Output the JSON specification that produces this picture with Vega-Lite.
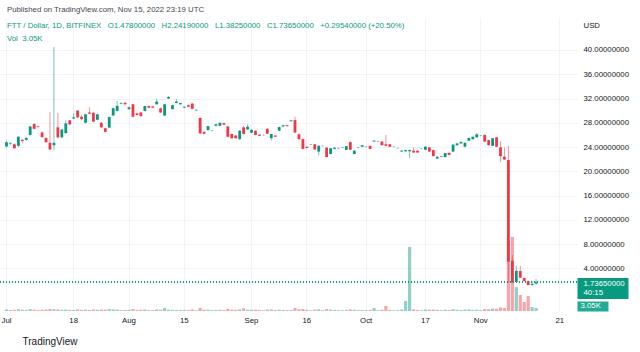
{
  "$schema": "https://vega.github.io/schema/vega-lite/v6.json",
  "autosize": {"type": "none"},
  "width": 577,
  "height": 294,
  "padding": {"left": 0, "top": 17, "right": 63, "bottom": 41},
  "background": "#ffffff",
  "config": {"view": {"stroke": null}, "font": "Liberation Sans"},
  "title": {
    "text": "Published on TradingView.com, Nov 15, 2022 23:19 UTC",
    "subtitle": ["\u00a0\u00a0FTT / Dollar, 1D, BITFINEX\u00a0\u00a0\u00a0O1.47800000\u00a0\u00a0\u00a0H2.24190000\u00a0\u00a0\u00a0L1.38250000\u00a0\u00a0\u00a0C1.73650000\u00a0\u00a0\u00a0+0.29540000 (+20.50%)", "\u00a0\u00a0Vol\u00a0\u00a03.05K"],
    "anchor": "start", "frame": "group", "offset": -26, "dx": 7,
    "fontSize": 7.8, "fontWeight": "normal", "color": "#434651",
    "subtitleFontSize": 7.8, "subtitleColor": "#089981", "subtitlePadding": 8, "subtitleLineHeight": 13
  },
  "datasets": {
    "ohlc": [
      {"d":"2022-07-01","o":24.1,"h":25.0,"l":23.9,"c":24.8,"v":1.6},
      {"d":"2022-07-02","o":24.5,"h":24.8,"l":24.3,"c":24.6,"v":1.0},
      {"d":"2022-07-03","o":24.45,"h":24.6,"l":23.7,"c":23.8,"v":1.2},
      {"d":"2022-07-04","o":24.2,"h":25.8,"l":24.0,"c":25.7,"v":1.8},
      {"d":"2022-07-05","o":25.2,"h":25.3,"l":24.6,"c":25.0,"v":1.3},
      {"d":"2022-07-06","o":25.2,"h":25.7,"l":25.0,"c":25.5,"v":1.1},
      {"d":"2022-07-07","o":26.0,"h":27.5,"l":25.9,"c":27.4,"v":1.9},
      {"d":"2022-07-08","o":27.8,"h":27.9,"l":26.9,"c":27.0,"v":1.4},
      {"d":"2022-07-09","o":27.4,"h":27.5,"l":27.2,"c":27.3,"v":0.9},
      {"d":"2022-07-10","o":26.4,"h":26.6,"l":25.5,"c":25.65,"v":1.3},
      {"d":"2022-07-11","o":25.5,"h":25.6,"l":24.7,"c":24.8,"v":1.5},
      {"d":"2022-07-12","o":24.7,"h":29.8,"l":23.5,"c":23.6,"v":2.0},
      {"d":"2022-07-13","o":24.3,"h":40.5,"l":23.5,"c":24.7,"v":1.8},
      {"d":"2022-07-14","o":27.25,"h":29.6,"l":25.4,"c":25.6,"v":1.6},
      {"d":"2022-07-15","o":25.6,"h":27.0,"l":25.5,"c":26.9,"v":1.2},
      {"d":"2022-07-16","o":26.3,"h":28.4,"l":26.2,"c":27.9,"v":1.5},
      {"d":"2022-07-17","o":28.4,"h":28.5,"l":27.6,"c":27.75,"v":1.1},
      {"d":"2022-07-18","o":28.7,"h":29.6,"l":28.6,"c":28.9,"v":1.0},
      {"d":"2022-07-19","o":30.0,"h":30.1,"l":28.8,"c":28.9,"v":1.7},
      {"d":"2022-07-20","o":29.0,"h":29.3,"l":28.4,"c":28.6,"v":1.2},
      {"d":"2022-07-21","o":28.0,"h":29.5,"l":27.9,"c":29.4,"v":1.4},
      {"d":"2022-07-22","o":29.7,"h":30.55,"l":29.4,"c":29.5,"v":1.0},
      {"d":"2022-07-23","o":29.65,"h":29.8,"l":28.1,"c":28.2,"v":1.6},
      {"d":"2022-07-24","o":28.5,"h":29.5,"l":28.4,"c":29.4,"v":1.2},
      {"d":"2022-07-25","o":28.0,"h":28.1,"l":27.1,"c":27.25,"v":1.5},
      {"d":"2022-07-26","o":27.1,"h":27.2,"l":26.4,"c":26.5,"v":1.3},
      {"d":"2022-07-27","o":27.2,"h":29.0,"l":27.1,"c":28.95,"v":1.9},
      {"d":"2022-07-28","o":29.2,"h":30.5,"l":29.1,"c":30.4,"v":1.6},
      {"d":"2022-07-29","o":29.95,"h":31.6,"l":29.9,"c":30.8,"v":1.4},
      {"d":"2022-07-30","o":31.15,"h":31.4,"l":31.0,"c":31.25,"v":0.9},
      {"d":"2022-07-31","o":31.3,"h":31.4,"l":30.9,"c":31.05,"v":1.0},
      {"d":"2022-08-01","o":30.25,"h":30.7,"l":30.2,"c":30.55,"v":1.2},
      {"d":"2022-08-02","o":31.05,"h":31.1,"l":28.9,"c":29.0,"v":2.0},
      {"d":"2022-08-03","o":29.55,"h":29.6,"l":29.2,"c":29.3,"v":1.1},
      {"d":"2022-08-04","o":29.7,"h":29.8,"l":29.0,"c":29.1,"v":1.3},
      {"d":"2022-08-05","o":29.95,"h":30.8,"l":29.9,"c":30.75,"v":1.5},
      {"d":"2022-08-06","o":30.75,"h":30.85,"l":30.4,"c":30.5,"v":0.9},
      {"d":"2022-08-07","o":30.7,"h":30.8,"l":30.45,"c":30.5,"v":1.0},
      {"d":"2022-08-08","o":31.05,"h":32.0,"l":31.0,"c":31.5,"v":1.6},
      {"d":"2022-08-09","o":30.4,"h":30.5,"l":29.6,"c":29.7,"v":1.4},
      {"d":"2022-08-10","o":29.2,"h":31.1,"l":29.1,"c":31.05,"v":3.0},
      {"d":"2022-08-11","o":32.0,"h":32.4,"l":31.9,"c":32.25,"v":1.3},
      {"d":"2022-08-12","o":30.25,"h":31.0,"l":30.2,"c":30.9,"v":1.2},
      {"d":"2022-08-13","o":31.25,"h":31.9,"l":31.2,"c":31.5,"v":1.0},
      {"d":"2022-08-14","o":31.05,"h":31.3,"l":31.0,"c":31.25,"v":0.9},
      {"d":"2022-08-15","o":30.5,"h":30.7,"l":30.4,"c":30.65,"v":1.1},
      {"d":"2022-08-16","o":30.9,"h":31.0,"l":30.6,"c":30.65,"v":1.0},
      {"d":"2022-08-17","o":31.15,"h":31.3,"l":30.2,"c":30.3,"v":1.5},
      {"d":"2022-08-18","o":30.05,"h":30.2,"l":30.0,"c":30.15,"v":0.8},
      {"d":"2022-08-19","o":28.8,"h":28.9,"l":26.2,"c":26.25,"v":3.0},
      {"d":"2022-08-20","o":26.5,"h":26.6,"l":26.1,"c":26.2,"v":1.4},
      {"d":"2022-08-21","o":26.8,"h":27.5,"l":26.7,"c":27.45,"v":1.3},
      {"d":"2022-08-22","o":26.7,"h":26.8,"l":26.6,"c":26.75,"v":0.9},
      {"d":"2022-08-23","o":27.5,"h":27.8,"l":27.4,"c":27.75,"v":1.1},
      {"d":"2022-08-24","o":27.5,"h":28.05,"l":27.45,"c":28.0,"v":1.2},
      {"d":"2022-08-25","o":27.95,"h":28.0,"l":27.6,"c":27.7,"v":1.0},
      {"d":"2022-08-26","o":27.4,"h":27.5,"l":25.6,"c":25.7,"v":2.2},
      {"d":"2022-08-27","o":26.15,"h":26.2,"l":25.4,"c":25.45,"v":1.5},
      {"d":"2022-08-28","o":25.9,"h":26.0,"l":25.4,"c":25.45,"v":1.2},
      {"d":"2022-08-29","o":25.3,"h":26.8,"l":25.2,"c":26.7,"v":1.6},
      {"d":"2022-08-30","o":27.25,"h":27.5,"l":26.1,"c":26.15,"v":2.8},
      {"d":"2022-08-31","o":26.9,"h":27.7,"l":26.85,"c":27.35,"v":1.3},
      {"d":"2022-09-01","o":26.35,"h":26.9,"l":26.3,"c":26.85,"v":1.2},
      {"d":"2022-09-02","o":26.7,"h":26.75,"l":25.95,"c":26.0,"v":1.4},
      {"d":"2022-09-03","o":26.05,"h":26.1,"l":25.8,"c":25.85,"v":1.0},
      {"d":"2022-09-05","o":25.95,"h":26.05,"l":25.9,"c":26.0,"v":0.8},
      {"d":"2022-09-06","o":27.0,"h":27.1,"l":26.1,"c":26.2,"v":1.5},
      {"d":"2022-09-07","o":25.45,"h":26.2,"l":25.1,"c":26.15,"v":1.6},
      {"d":"2022-09-08","o":25.9,"h":25.95,"l":25.65,"c":25.7,"v":1.0},
      {"d":"2022-09-09","o":26.7,"h":27.35,"l":26.65,"c":27.3,"v":1.4},
      {"d":"2022-09-10","o":27.4,"h":27.65,"l":27.35,"c":27.6,"v":1.0},
      {"d":"2022-09-11","o":27.6,"h":27.65,"l":27.4,"c":27.45,"v":0.9},
      {"d":"2022-09-12","o":28.25,"h":28.5,"l":28.2,"c":28.4,"v":1.1},
      {"d":"2022-09-13","o":28.45,"h":29.0,"l":26.3,"c":26.4,"v":3.0},
      {"d":"2022-09-14","o":26.1,"h":26.2,"l":25.2,"c":25.3,"v":1.8},
      {"d":"2022-09-15","o":25.3,"h":25.4,"l":23.6,"c":23.7,"v":2.0},
      {"d":"2022-09-16","o":24.05,"h":24.1,"l":23.8,"c":23.85,"v":1.2},
      {"d":"2022-09-17","o":24.4,"h":24.5,"l":24.35,"c":24.45,"v":0.8},
      {"d":"2022-09-18","o":24.45,"h":24.5,"l":23.5,"c":23.6,"v":1.3},
      {"d":"2022-09-19","o":23.25,"h":24.3,"l":22.6,"c":24.2,"v":1.7},
      {"d":"2022-09-20","o":24.15,"h":24.25,"l":24.1,"c":24.2,"v":0.9},
      {"d":"2022-09-21","o":23.9,"h":24.0,"l":22.3,"c":22.35,"v":1.9},
      {"d":"2022-09-22","o":22.85,"h":23.85,"l":22.8,"c":23.8,"v":1.4},
      {"d":"2022-09-23","o":23.7,"h":23.95,"l":23.65,"c":23.9,"v":1.0},
      {"d":"2022-09-24","o":23.8,"h":23.9,"l":23.75,"c":23.85,"v":0.8},
      {"d":"2022-09-25","o":23.95,"h":24.05,"l":23.9,"c":24.0,"v":0.8},
      {"d":"2022-09-26","o":23.55,"h":24.2,"l":23.5,"c":24.15,"v":1.2},
      {"d":"2022-09-27","o":24.8,"h":25.0,"l":23.5,"c":23.55,"v":1.6},
      {"d":"2022-09-28","o":22.85,"h":23.45,"l":22.8,"c":23.4,"v":1.3},
      {"d":"2022-09-29","o":23.9,"h":24.0,"l":23.85,"c":23.95,"v":0.9},
      {"d":"2022-09-30","o":24.05,"h":24.35,"l":24.0,"c":24.3,"v":1.0},
      {"d":"2022-10-01","o":24.0,"h":24.1,"l":23.95,"c":24.05,"v":0.8},
      {"d":"2022-10-02","o":24.2,"h":24.25,"l":23.65,"c":23.7,"v":1.1},
      {"d":"2022-10-03","o":24.9,"h":25.1,"l":24.85,"c":25.05,"v":3.0},
      {"d":"2022-10-04","o":24.9,"h":25.0,"l":24.85,"c":24.95,"v":0.9},
      {"d":"2022-10-05","o":24.9,"h":24.95,"l":24.25,"c":24.3,"v":1.3},
      {"d":"2022-10-06","o":24.45,"h":26.0,"l":24.15,"c":24.2,"v":5.0},
      {"d":"2022-10-07","o":24.45,"h":24.5,"l":24.0,"c":24.05,"v":1.2},
      {"d":"2022-10-08","o":24.0,"h":24.1,"l":23.95,"c":24.05,"v":0.8},
      {"d":"2022-10-10","o":23.8,"h":23.9,"l":23.75,"c":23.85,"v":0.9},
      {"d":"2022-10-11","o":23.25,"h":23.45,"l":23.2,"c":23.4,"v":1.5},
      {"d":"2022-10-12","o":23.3,"h":23.55,"l":23.25,"c":23.5,"v":10},
      {"d":"2022-10-13","o":23.3,"h":23.55,"l":22.15,"c":23.5,"v":64},
      {"d":"2022-10-14","o":23.4,"h":23.9,"l":23.05,"c":23.1,"v":1.6},
      {"d":"2022-10-15","o":23.4,"h":23.45,"l":23.05,"c":23.1,"v":1.0},
      {"d":"2022-10-16","o":23.7,"h":23.8,"l":23.65,"c":23.75,"v":0.8},
      {"d":"2022-10-17","o":23.55,"h":24.1,"l":23.5,"c":24.05,"v":1.5},
      {"d":"2022-10-18","o":23.95,"h":24.0,"l":23.2,"c":23.25,"v":1.4},
      {"d":"2022-10-19","o":23.5,"h":23.55,"l":22.45,"c":22.5,"v":1.6},
      {"d":"2022-10-20","o":22.1,"h":22.5,"l":22.05,"c":22.4,"v":1.2},
      {"d":"2022-10-21","o":22.5,"h":22.55,"l":22.35,"c":22.4,"v":0.9},
      {"d":"2022-10-22","o":22.35,"h":23.05,"l":22.3,"c":23.0,"v":1.3},
      {"d":"2022-10-24","o":23.05,"h":23.1,"l":22.65,"c":22.7,"v":1.0},
      {"d":"2022-10-25","o":23.25,"h":24.45,"l":23.2,"c":24.4,"v":1.8},
      {"d":"2022-10-26","o":24.3,"h":24.65,"l":24.25,"c":24.6,"v":1.2},
      {"d":"2022-10-27","o":24.6,"h":24.9,"l":24.55,"c":24.85,"v":1.0},
      {"d":"2022-10-28","o":24.05,"h":24.75,"l":24.0,"c":24.7,"v":1.4},
      {"d":"2022-10-29","o":25.05,"h":25.55,"l":25.0,"c":25.5,"v":1.5},
      {"d":"2022-10-30","o":25.3,"h":25.75,"l":25.25,"c":25.7,"v":1.1},
      {"d":"2022-10-31","o":25.6,"h":26.3,"l":25.55,"c":26.1,"v":1.3},
      {"d":"2022-11-01","o":25.85,"h":25.95,"l":25.8,"c":25.9,"v":0.9},
      {"d":"2022-11-02","o":26.0,"h":26.1,"l":24.85,"c":24.9,"v":2.0},
      {"d":"2022-11-03","o":25.15,"h":25.2,"l":24.25,"c":24.3,"v":1.8},
      {"d":"2022-11-04","o":24.2,"h":25.5,"l":24.15,"c":25.45,"v":2.5},
      {"d":"2022-11-05","o":25.6,"h":25.65,"l":24.0,"c":24.05,"v":2.2},
      {"d":"2022-11-06","o":23.95,"h":24.95,"l":21.5,"c":22.5,"v":3.5},
      {"d":"2022-11-07","o":22.4,"h":23.9,"l":21.9,"c":21.95,"v":3.0},
      {"d":"2022-11-08","o":21.85,"h":24.2,"l":1.6,"c":5.1,"v":70},
      {"d":"2022-11-09","o":5.25,"h":6.2,"l":1.6,"c":1.7,"v":74},
      {"d":"2022-11-10","o":1.75,"h":4.45,"l":1.7,"c":3.6,"v":24},
      {"d":"2022-11-11","o":3.55,"h":4.45,"l":2.4,"c":2.45,"v":16},
      {"d":"2022-11-12","o":2.4,"h":2.5,"l":1.85,"c":1.9,"v":9},
      {"d":"2022-11-13","o":1.9,"h":2.0,"l":1.2,"c":1.25,"v":15},
      {"d":"2022-11-14","o":1.25,"h":1.9,"l":1.15,"c":1.4411,"v":4},
      {"d":"2022-11-15","o":1.478,"h":2.2419,"l":1.3825,"c":1.7365,"v":3.05}
    ]
  },
  "resolve": {"scale": {"y": "independent"}, "axis": {"y": "independent"}},
  "layer": [
    {
      "data": {"name": "ohlc"},
      "mark": {"type": "bar", "size": 3.2},
      "encoding": {
        "x": {
          "field": "d", "type": "ordinal",
          "scale": {"type": "band", "paddingInner": 0, "paddingOuter": 1.41, "align": 0.572,
            "domain": ["2022-07-01","2022-07-02","2022-07-03","2022-07-04","2022-07-05","2022-07-06","2022-07-07","2022-07-08","2022-07-09","2022-07-10","2022-07-11","2022-07-12","2022-07-13","2022-07-14","2022-07-15","2022-07-16","2022-07-17","2022-07-18","2022-07-19","2022-07-20","2022-07-21","2022-07-22","2022-07-23","2022-07-24","2022-07-25","2022-07-26","2022-07-27","2022-07-28","2022-07-29","2022-07-30","2022-07-31",
              "2022-08-01","2022-08-02","2022-08-03","2022-08-04","2022-08-05","2022-08-06","2022-08-07","2022-08-08","2022-08-09","2022-08-10","2022-08-11","2022-08-12","2022-08-13","2022-08-14","2022-08-15","2022-08-16","2022-08-17","2022-08-18","2022-08-19","2022-08-20","2022-08-21","2022-08-22","2022-08-23","2022-08-24","2022-08-25","2022-08-26","2022-08-27","2022-08-28","2022-08-29","2022-08-30","2022-08-31",
              "2022-09-01","2022-09-02","2022-09-03","2022-09-05","2022-09-06","2022-09-07","2022-09-08","2022-09-09","2022-09-10","2022-09-11","2022-09-12","2022-09-13","2022-09-14","2022-09-15","2022-09-16","2022-09-17","2022-09-18","2022-09-19","2022-09-20","2022-09-21","2022-09-22","2022-09-23","2022-09-24","2022-09-25","2022-09-26","2022-09-27","2022-09-28","2022-09-29","2022-09-30",
              "2022-10-01","2022-10-02","2022-10-03","2022-10-04","2022-10-05","2022-10-06","2022-10-07","2022-10-08","2022-10-10","2022-10-11","2022-10-12","2022-10-13","2022-10-14","2022-10-15","2022-10-16","2022-10-17","2022-10-18","2022-10-19","2022-10-20","2022-10-21","2022-10-22","2022-10-24","2022-10-25","2022-10-26","2022-10-27","2022-10-28","2022-10-29","2022-10-30","2022-10-31",
              "2022-11-01","2022-11-02","2022-11-03","2022-11-04","2022-11-05","2022-11-06","2022-11-07","2022-11-08","2022-11-09","2022-11-10","2022-11-11","2022-11-12","2022-11-13","2022-11-14","2022-11-15","2022-11-16","2022-11-17","2022-11-18","2022-11-19","2022-11-20","2022-11-21","2022-11-22","2022-11-23","2022-11-24"]},
          "axis": {
            "values": ["2022-07-01","2022-07-18","2022-08-01","2022-08-15","2022-09-01","2022-09-16","2022-10-01","2022-10-17","2022-11-01","2022-11-21"],
            "labelExpr": "slice(datum.value, 8) == '01' ? ['Jan','Feb','Mar','Apr','May','Jun','Jul','Aug','Sep','Oct','Nov','Dec'][toNumber(slice(datum.value, 5, 7)) - 1] : toString(toNumber(slice(datum.value, 8)))",
            "bandPosition": 0.5, "labelAngle": 0, "labelFlush": false, "labelOverlap": false, "labelBound": false,
            "labelFontSize": 7.8, "labelColor": "#131722", "labelPadding": 5,
            "ticks": false, "domain": false, "grid": true, "gridColor": "#f0f3fa", "gridWidth": 1,
            "title": "TradingView", "titleX": 22, "titleY": 30, "titleAlign": "left", "titleAnchor": "start",
            "titleBaseline": "middle", "titleFontSize": 10, "titleFontWeight": "normal", "titleColor": "#131722"
          }
        },
        "y": {"field": "v", "type": "quantitative", "scale": {"domain": [0, 294], "nice": false, "zero": true}, "axis": null},
        "color": {"condition": {"test": "datum.c >= datum.o", "value": "#089981"}, "value": "#f23645"},
        "opacity": {"value": 0.45}
      }
    },
    {
      "data": {"name": "ohlc"},
      "encoding": {
        "x": {"field": "d", "type": "ordinal"},
        "y": {
          "type": "quantitative",
          "scale": {"domain": [-3.03, 45.44], "nice": false, "zero": false},
          "axis": {
            "orient": "right",
            "values": [4, 8, 12, 16, 20, 24, 28, 32, 36, 40, 0.79, -2.19],
            "labelExpr": "datum.value == 0.79 ? ['1.73650000', '40:15'] : datum.value == -2.19 ? '3.05K' : format(datum.value, '.8f')",
            "labelFontSize": 7.8, "labelLineHeight": 9, "labelAlign": "left", "labelBaseline": "middle",
            "labelOverlap": false, "labelBound": false, "labelFlush": false,
            "labelColor": {"condition": {"test": "datum.value < 1", "value": "#ffffff"}, "value": "#131722"},
            "labelPadding": {"condition": [{"test": "datum.value == 0.79", "value": -45}, {"test": "datum.value == -2.19", "value": -28}], "value": 6},
            "labelOffset": {"condition": {"test": "datum.value == 0.79", "value": -4.5}, "value": 0},
            "tickSize": {"condition": [{"test": "datum.value == 0.79", "value": 51}, {"test": "datum.value == -2.19", "value": 31}], "value": 0},
            "tickWidth": {"condition": [{"test": "datum.value == 0.79", "value": 21}, {"test": "datum.value == -2.19", "value": 10}], "value": 0},
            "tickColor": {"condition": {"test": "datum.value == 0.79", "value": "#089981"}, "value": "#22ab94"},
            "domain": false, "grid": true,
            "gridColor": {"condition": {"test": "datum.value < 1", "value": "transparent"}, "value": "#f0f3fa"},
            "title": "USD", "titleAngle": 0, "titleX": 6, "titleY": 8, "titleAlign": "left", "titleBaseline": "middle",
            "titleFontSize": 7.8, "titleFontWeight": "normal", "titleColor": "#131722"
          }
        }
      },
      "layer": [
        {
          "mark": {"type": "rule", "strokeWidth": 1},
          "encoding": {
            "y": {"field": "l", "type": "quantitative"},
            "y2": {"field": "h"},
            "color": {"condition": {"test": "datum.c >= datum.o", "value": "#089981"}, "value": "#f23645"},
            "opacity": {"value": 0.55}
          }
        },
        {
          "mark": {"type": "bar", "size": 2.8},
          "encoding": {
            "y": {"field": "o", "type": "quantitative"},
            "y2": {"field": "c"},
            "color": {"condition": {"test": "datum.c >= datum.o", "value": "#089981"}, "value": "#f23645"}
          }
        },
        {
          "mark": {"type": "rule", "strokeDash": [1, 2], "strokeWidth": 1, "color": "#089981"},
          "encoding": {"y": {"datum": 1.7365}, "x": null}
        }
      ]
    }
  ]
}
